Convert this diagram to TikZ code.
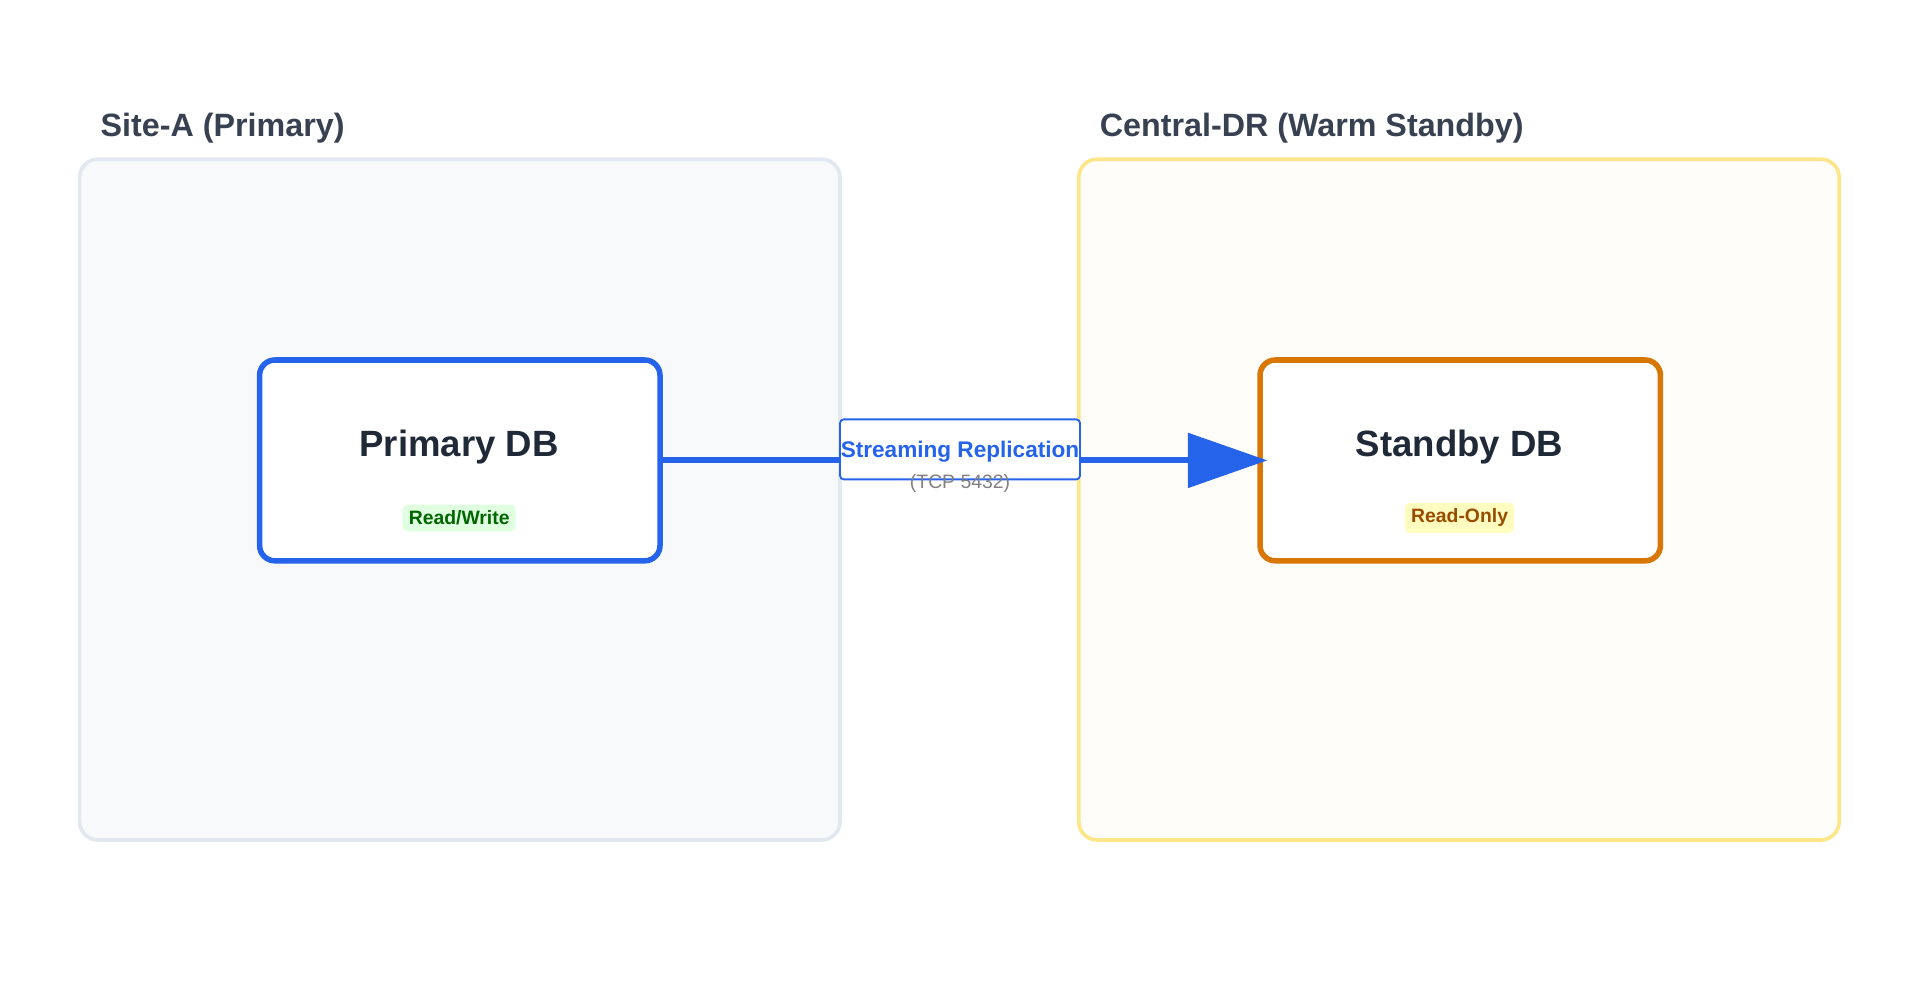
\documentclass[tikz,border=0pt]{standalone}
\usepackage{fontspec}
\setmainfont{Liberation Sans}
\usetikzlibrary{arrows.meta,positioning}
\definecolor{siteA}{HTML}{F8F9FB}
\definecolor{siteAline}{HTML}{E2E8F0}
\definecolor{siteB}{HTML}{FFFDFA}
\definecolor{siteBline}{HTML}{FDE68A}
\definecolor{blueline}{HTML}{2563EB}
\definecolor{orangeline}{HTML}{D97706}
\definecolor{titletext}{HTML}{374151}
\definecolor{dbtext}{HTML}{1F2937}
\tikzset{
  site/.style={rounded corners=0.3cm, line width=0.06cm},
  sitetitle/.style={anchor=west, font=\bfseries\fontsize{15}{18}\selectfont, text=titletext},
  db/.style={rounded corners=0.25cm, line width=0.09cm, fill=white},
  dbname/.style={font=\bfseries\fontsize{17}{20}\selectfont, text=dbtext},
  badge/.style={rounded corners=0.08cm, inner sep=0.1cm, font=\bfseries\fontsize{9}{11}\selectfont}
}
\begin{document}
\begin{tikzpicture}[x=0.02cm,y=-0.02cm]
	\useasboundingbox (0,0) rectangle (1568,817);
	% containers
	\draw[site, fill=siteA, draw=siteAline] (65,130) rectangle (686,686);
	\draw[site, fill=siteB, draw=siteBline] (881,130) rectangle (1502,686);
	\node[sitetitle] (titleA) at (76,105) {Site-A (Primary)};
	\node[sitetitle] (titleB) at (892,105) {Central-DR (Warm Standby)};
	% databases
	\draw[db, draw=blueline] (212,294) rectangle (539,458);
	\coordinate (primary-e) at (539,376);
	\node[dbname] (primary) at (375,365) {Primary DB};
	\node[badge, fill=green!12, text=green!40!black] (rw) at (375,423) {Read/Write};
	\draw[db, draw=orangeline] (1029,294) rectangle (1356,458);
	\coordinate (standby-w) at (1035,376);
	\node[dbname] (standby) at (1192,365) {Standby DB};
	\node[badge, fill=yellow!25, text=orange!60!black] (ro) at (1192,423) {Read-Only};
	% replication
	\draw[blueline, line width=0.1cm, -{Triangle[length=1.3cm,width=0.88cm]}] (primary-e) -- (standby-w);
	\node[draw=blueline, fill=white, rounded corners=0.06cm, line width=0.03cm,
	  minimum width=3.92cm, minimum height=0.98cm] (repl) at (784,367) {};
	\node[text=blueline, font=\bfseries\fontsize{10.5}{12}\selectfont] (repltext) at (784,369) {Streaming Replication};
	\node[text=gray, font=\fontsize{9}{11}\selectfont] (tcp) at (784,395) {(TCP 5432)};
\end{tikzpicture}
\end{document}
